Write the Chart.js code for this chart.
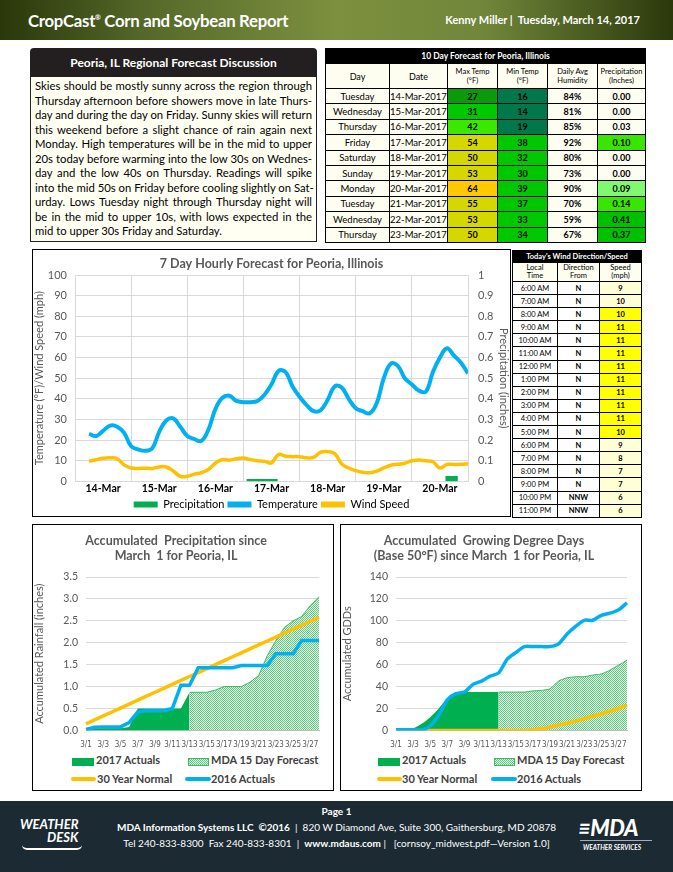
<!DOCTYPE html>
<html>
<head>
<meta charset="utf-8">
<script src="https://cdn.jsdelivr.net/npm/chart.js@4.4.1/dist/chart.umd.min.js"></script>
<style>
  body { margin: 0; width: 673px; height: 872px; position: relative; overflow: hidden; background: #fff; font-family: Lato, "Open Sans", sans-serif; }
  .abs { position: absolute; }
  #top { left: 0; top: 0; width: 673px; height: 40px; background: linear-gradient(90deg, #2a370a 0%, #56692a 22%, #7d903f 50%, #71863a 72%, #2b380b 100%); }
  #top .ttl { left: 28px; top: 10px; color: #fff; font-weight: bold; font-size: 16.8px; letter-spacing: -0.3px; }
  #top .ttl sup { font-size: 7px; }
  #top .who { right: 33px; top: 13px; color: #fff; font-weight: bold; font-size: 11px; }
  #disc { left: 30px; top: 48px; width: 287px; }
  #disc .hd { height: 29px; background: #231f20; border-radius: 4px 4px 0 0; color: #fff; font-weight: bold; font-size: 12px; text-align: center; line-height: 30px; }
  #disc .bd { height: 165px; background: #fffff2; border: 1px solid #222; border-top: none; padding: 2px 4px 0 4px; box-sizing: border-box; font-size: 11.3px; line-height: 14.55px; color: #000; }
  #disc .bd div { text-align: justify; text-align-last: justify; white-space: nowrap; }
  #disc .bd div.last { text-align-last: left; }
  table { border-collapse: collapse; }
  #fc { left: 325px; top: 48px; width: 321px; font-size: 9.5px; }
  #fc td, #fc th { border: 1px solid #000; text-align: center; padding: 0; background: #fdfdf0; }
  #fc th { font-weight: normal; font-size: 7.5px; height: 24px; line-height: 9px; }
  #fc th.day { font-size: 9px; }
  #fc .cap td { background: #000; color: #fff; font-weight: bold; height: 14px; font-size: 8.5px; }
  #fc td { height: 14.4px; }
  #fc td.b { font-weight: bold; font-size: 9px; }
  #wt { left: 512px; top: 250px; width: 130px; font-size: 7.5px; }
  #wt td, #wt th { border: 1px solid #000; text-align: center; padding: 0; background: #fff; }
  #wt .cap td { background: #000; color: #fff; font-weight: bold; height: 11px; font-size: 7.5px; }
  #wt th { font-weight: normal; height: 18px; line-height: 8.5px; background: #fdfdf0; }
  #wt td { height: 12.1px; }
  #wt td.b { font-weight: bold; }
  .box { border: 1px solid #000; box-sizing: border-box; }
  .leg { font-size: 11px; font-weight: bold; color: #404040; }
  .leg span.k { position: absolute; white-space: nowrap; }
  #foot { left: 0; top: 801px; width: 673px; height: 71px; background: #1c2a33; color: #fff; }
  #foot .c { left: 0; width: 673px; text-align: center; font-size: 10px; }
</style>
</head>
<body>
<div id="top" class="abs">
  <div class="abs ttl">CropCast<sup>®</sup> Corn and Soybean Report</div>
  <div class="abs who">Kenny Miller |&nbsp; Tuesday, March 14, 2017</div>
</div>

<div id="disc" class="abs">
  <div class="hd">Peoria, IL Regional Forecast Discussion</div>
  <div class="bd" id="discBody"></div>
</div>

<table id="fc" class="abs"></table>
<table id="wt" class="abs"></table>

<div class="abs box" style="left:32px;top:249px;width:479px;height:268px;">
  <canvas id="hourly" width="477" height="270"></canvas>
</div>

<div class="abs box" style="left:32px;top:524px;width:302px;height:267px;overflow:hidden;">
  <canvas id="rain" width="300" height="227"></canvas>
</div>
<div class="abs leg" style="left:0;top:0;">
  <span class="k" style="left:72px;top:758px;width:22px;height:8px;background:#00B050"></span>
  <span class="k" style="left:96px;top:753px;">2017 Actuals</span>
  <span class="k" id="pat1" style="left:188px;top:758px;width:21px;height:8px;"></span>
  <span class="k" style="left:211px;top:753px;">MDA 15 Day Forecast</span>
  <span class="k" style="left:71px;top:777px;width:25px;height:4px;background:#FFC000;border-radius:2px"></span>
  <span class="k" style="left:97px;top:772px;">30 Year Normal</span>
  <span class="k" style="left:185px;top:777px;width:26px;height:4px;background:#00B0F0;border-radius:2px"></span>
  <span class="k" style="left:211px;top:772px;">2016 Actuals</span>
</div>

<div class="abs box" style="left:340px;top:524px;width:302px;height:267px;overflow:hidden;">
  <canvas id="gdd" width="300" height="227"></canvas>
</div>
<div class="abs leg" style="left:0;top:0;">
  <span class="k" style="left:378px;top:758px;width:22px;height:8px;background:#00B050"></span>
  <span class="k" style="left:402px;top:753px;">2017 Actuals</span>
  <span class="k" id="pat2" style="left:494px;top:758px;width:21px;height:8px;"></span>
  <span class="k" style="left:517px;top:753px;">MDA 15 Day Forecast</span>
  <span class="k" style="left:377px;top:777px;width:25px;height:4px;background:#FFC000;border-radius:2px"></span>
  <span class="k" style="left:402px;top:772px;">30 Year Normal</span>
  <span class="k" style="left:491px;top:777px;width:26px;height:4px;background:#00B0F0;border-radius:2px"></span>
  <span class="k" style="left:517px;top:772px;">2016 Actuals</span>
</div>

<div id="foot" class="abs">
  <div class="abs c" style="top:4px;font-weight:bold;">Page 1</div>
  <div class="abs c" style="top:20px;"><b>MDA Information Systems LLC &nbsp;©2016</b> &nbsp;|&nbsp; 820 W Diamond Ave, Suite 300, Gaithersburg, MD 20878</div>
  <div class="abs c" style="top:36px;">Tel 240-833-8300 &nbsp;Fax 240-833-8301 &nbsp;| &nbsp;<b>www.mdaus.com</b> | &nbsp; [cornsoy_midwest.pdf—Version 1.0]</div>
  <div class="abs" style="left:20px;top:17px;font-style:italic;font-weight:bold;font-size:13px;line-height:13px;">WEATHER<br><span style="padding-left:27px">DESK</span></div>
  <div class="abs" style="left:22px;top:44px;width:60px;height:3px;border-bottom:2px solid #fff;border-radius:0 0 40px 40px;"></div>
  <div class="abs" style="left:578px;top:13px;font-style:italic;font-weight:900;font-size:22px;letter-spacing:-0.5px;">&#8801;MDA</div>
  <div class="abs" style="left:580px;top:39px;width:72px;border-top:1px solid #aab;"></div>
  <div class="abs" style="left:583px;top:43px;font-style:italic;font-weight:bold;font-size:6.5px;">WEATHER SERVICES</div>
</div>

<script>
// ---- text + tables ----
const discLines = [
  "Skies should be mostly sunny across the region through",
  "Thursday afternoon before showers move in late Thurs-",
  "day and during the day on Friday. Sunny skies will return",
  "this weekend before a slight chance of rain again next",
  "Monday. High temperatures will be in the mid to upper",
  "20s today before warming into the low 30s on Wednes-",
  "day and the low 40s on Thursday. Readings will spike",
  "into the mid 50s on Friday before cooling slightly on Sat-",
  "urday. Lows Tuesday night through Thursday night will",
  "be in the mid to upper 10s, with lows expected in the",
  "mid to upper 30s Friday and Saturday."
];

const fcDays = ["Tuesday", "Wednesday", "Thursday", "Friday", "Saturday", "Sunday", "Monday", "Tuesday", "Wednesday", "Thursday"];
const fcDates = ["14-Mar-2017", "15-Mar-2017", "16-Mar-2017", "17-Mar-2017", "18-Mar-2017", "19-Mar-2017", "20-Mar-2017", "21-Mar-2017", "22-Mar-2017", "23-Mar-2017"];
const fcMax = [27, 31, 42, 54, 50, 53, 64, 55, 53, 50];
const fcMin = [16, 14, 19, 38, 32, 30, 39, 37, 33, 34];
const fcHumid = [84, 81, 85, 92, 80, 73, 90, 70, 59, 67];
const fcPrecip = [0.00, 0.00, 0.03, 0.10, 0.00, 0.00, 0.09, 0.14, 0.41, 0.37];

const windTimes = ["6:00 AM", "7:00 AM", "8:00 AM", "9:00 AM", "10:00 AM", "11:00 AM", "12:00 PM", "1:00 PM", "2:00 PM", "3:00 PM", "4:00 PM", "5:00 PM", "6:00 PM", "7:00 PM", "8:00 PM", "9:00 PM", "10:00 PM", "11:00 PM"];
const windDirs = ["N", "N", "N", "N", "N", "N", "N", "N", "N", "N", "N", "N", "N", "N", "N", "N", "NNW", "NNW"];
const windSpeeds = [9, 10, 10, 11, 11, 11, 11, 11, 11, 11, 11, 10, 9, 8, 7, 7, 6, 6];

// ---- chart data ----
const dayLabels = ["14-Mar", "15-Mar", "16-Mar", "17-Mar", "18-Mar", "19-Mar", "20-Mar"];
const hours = [6, 9, 12, 15, 18, 21, 24, 27, 30, 33, 36, 39, 42, 45, 48, 51, 54, 57, 60, 63, 66, 69, 72, 75, 78, 81, 84, 87, 90, 93, 96, 99, 102, 105, 108, 111, 114, 117, 120, 123, 126, 129, 132, 135, 138, 141, 144, 147, 150, 153, 156, 159, 162, 165, 168];
const tempF = [23, 22, 24.5, 27, 26.5, 23.5, 17, 15.5, 14.8, 16, 24, 29.5, 30.5, 26.5, 22, 20.5, 19.6, 25, 35, 40.5, 41.5, 39, 38.4, 38.4, 39, 42, 47, 53.5, 53, 46, 41, 37, 34, 34.5, 39.5, 46, 45.5, 40, 35.5, 34, 33, 38, 50, 57, 56, 50, 47, 44, 43.5, 53, 60, 64.5, 61, 57.5, 52.3];
const windMph = [9.8, 10.5, 11.2, 11.4, 11, 8, 6.5, 6.3, 6.4, 6.3, 7, 7, 5, 2.5, 2.5, 3.5, 4.2, 5.8, 8.8, 10.6, 10.3, 11, 11.3, 10.6, 10, 9.7, 9, 13, 12.2, 12, 12, 11.4, 11.6, 14.2, 14.4, 13.5, 8.5, 6.5, 5.2, 4.4, 4.2, 5, 6.5, 7.8, 8.3, 8.8, 10, 10.4, 10, 9.5, 6.5, 8.2, 8.2, 8.3, 8.5];
const precipHours = [74, 75, 76, 77, 78, 79, 80, 81, 82, 83, 84, 85, 86, 159, 160, 161, 162, 163];
const precipIn = [0.01, 0.01, 0.01, 0.01, 0.01, 0.01, 0.01, 0.01, 0.01, 0.01, 0.01, 0.01, 0.01, 0.025, 0.025, 0.025, 0.025, 0.025];

const marchDays = ["3/1", "3/2", "3/3", "3/4", "3/5", "3/6", "3/7", "3/8", "3/9", "3/10", "3/11", "3/12", "3/13", "3/14", "3/15", "3/16", "3/17", "3/18", "3/19", "3/20", "3/21", "3/22", "3/23", "3/24", "3/25", "3/26", "3/27", "3/28"];
const rain2017 = [0.02, 0.04, 0.05, 0.05, 0.05, 0.08, 0.5, 0.5, 0.5, 0.5, 0.5, 0.5, 0.87, null, null, null, null, null, null, null, null, null, null, null, null, null, null, null];
const rainMDA = [null, null, null, null, null, null, null, null, null, null, null, null, 0.87, 0.87, 0.87, 0.92, 1.0, 1.0, 1.0, 1.1, 1.25, 1.7, 2.05, 2.35, 2.5, 2.6, 2.85, 3.05];
const rainNormal = [0.15, 0.24, 0.33, 0.42, 0.51, 0.60, 0.69, 0.78, 0.87, 0.96, 1.05, 1.14, 1.23, 1.32, 1.41, 1.50, 1.59, 1.68, 1.77, 1.86, 1.95, 2.04, 2.13, 2.22, 2.31, 2.40, 2.49, 2.58];
const rain2016 = [0.02, 0.07, 0.08, 0.08, 0.08, 0.18, 0.42, 0.45, 0.45, 0.45, 0.5, 1.03, 1.03, 1.43, 1.43, 1.43, 1.43, 1.43, 1.48, 1.48, 1.48, 1.48, 1.75, 1.75, 1.75, 2.05, 2.05, 2.05];

const gdd2017 = [2, 2, 2, 6, 12, 20, 29, 34, 35, 35, 35, 35, 35, null, null, null, null, null, null, null, null, null, null, null, null, null, null, null];
const gddMDA = [null, null, null, null, null, null, null, null, null, null, null, null, 35, 35, 35, 35, 36, 36.5, 38, 45, 48, 49, 49, 50.5, 51.5, 55, 59.5, 64];
const gddNormal = [0, 0, 0, 0, 0, 0, 0, 0, 0, 0, 0, 0, 0, 0, 0, 0, 0.5, 1.5, 3, 5, 6.5, 8.5, 10.5, 13, 15, 17.5, 20, 23];
const gdd2016 = [0.5, 0.5, 0.5, 0.5, 4, 14, 28, 33.5, 35, 42, 45, 49.5, 52.5, 65, 71, 76.5, 76.5, 76.5, 76.5, 79, 88, 95, 100.5, 100.5, 105, 107, 110, 116.5];

// discussion text, one div per line so the wraps match
const body = document.getElementById("discBody");
discLines.forEach((t, i) => {
  const d = document.createElement("div");
  d.textContent = t;
  if (i === discLines.length - 1) d.className = "last";
  body.appendChild(d);
});

// conditional colors like the excel sheet
function maxColor(v) {
  if (v < 30) return "#0a9a0a";
  if (v < 40) return "#00c800";
  if (v < 50) return "#3de800";
  if (v < 60) return "#d6d600";
  return "#ffc800";
}
function minColor(v) { return v < 20 ? "#00784c" : "#00c800"; }
function precipColor(v) {
  if (v < 0.05) return "#fdfdf0";
  if (v < 0.1) return "#80f870";
  if (v < 0.2) return "#38e600";
  return "#00c000";
}

const fc = document.getElementById("fc");
let html = '<tr class="cap"><td colspan="6">10 Day Forecast for Peoria, Illinois</td></tr>';
html += '<tr><th class="day" style="width:63px">Day</th><th class="day" style="width:57px">Date</th><th style="width:49px">Max Temp<br>(°F)</th><th style="width:49px">Min Temp<br>(°F)</th><th style="width:49px">Daily Avg<br>Humidity</th><th>Precipitation<br>(Inches)</th></tr>';
fcDays.forEach((d, i) => {
  html += `<tr><td>${d}</td><td>${fcDates[i]}</td>` +
    `<td class="b" style="background:${maxColor(fcMax[i])}">${fcMax[i]}</td>` +
    `<td class="b" style="background:${minColor(fcMin[i])}">${fcMin[i]}</td>` +
    `<td class="b">${fcHumid[i]}%</td>` +
    `<td class="b" style="background:${precipColor(fcPrecip[i])}">${fcPrecip[i].toFixed(2)}</td></tr>`;
});
fc.innerHTML = html;

const wt = document.getElementById("wt");
html = '<tr class="cap"><td colspan="3">Today\'s Wind Direction/Speed</td></tr>';
html += '<tr><th style="width:44px">Local<br>Time</th><th style="width:41px">Direction<br>From</th><th>Speed<br>(mph)</th></tr>';
windTimes.forEach((t, i) => {
  const bg = (i >= 2 && i <= 11) ? "#ffff00" : "#ffffd6";
  html += `<tr><td>${t}</td><td class="b">${windDirs[i]}</td><td class="b" style="background:${bg}">${windSpeeds[i]}</td></tr>`;
});
wt.innerHTML = html;

// ---- charts ----
Chart.defaults.font.family = "Lato, 'Open Sans', sans-serif";
Chart.defaults.color = "#595959";
Chart.defaults.animation = false;

const grey = "#d9d9d9";

new Chart(document.getElementById("hourly"), {
  type: "line",
  data: {
    datasets: [
      {
        type: "bar",
        label: "Precipitation",
        data: precipHours.map((h, i) => ({ x: h, y: precipIn[i] })),
        backgroundColor: "#00B050",
        barPercentage: 1,
        categoryPercentage: 1,
        yAxisID: "y1",
      },
      {
        label: "Temperature",
        data: hours.map((h, i) => ({ x: h, y: tempF[i] })),
        borderColor: "#00B0F0",
        backgroundColor: "#00B0F0",
        borderWidth: 4,
        pointRadius: 0,
        tension: 0.4,
        yAxisID: "y",
      },
      {
        label: "Wind Speed",
        data: hours.map((h, i) => ({ x: h, y: windMph[i] })),
        borderColor: "#FFC000",
        backgroundColor: "#FFC000",
        borderWidth: 3.5,
        pointRadius: 0,
        tension: 0.4,
        yAxisID: "y",
      },
    ],
  },
  options: {
    responsive: false,
    layout: { padding: { top: 4, right: 0, bottom: 0, left: 0 } },
    plugins: {
      title: {
        display: true,
        text: "7 Day Hourly Forecast for Peoria, Illinois",
        font: { size: 12.5, weight: "bold" },
        color: "#595959",
        padding: { top: 2, bottom: 4 },
      },
      legend: {
        position: "bottom",
        labels: {
          boxWidth: 24,
          boxHeight: 6,
          padding: 3,
          font: { size: 11 },
          generateLabels: (chart) =>
            chart.data.datasets.map((ds, i) => ({
              text: ds.label,
              fillStyle: ds.backgroundColor,
              strokeStyle: ds.backgroundColor,
              lineWidth: 0,
              datasetIndex: i,
            })),
        },
      },
      tooltip: { enabled: false },
    },
    scales: {
      x: {
        type: "linear",
        min: 0,
        max: 168,
        offset: false,
        afterBuildTicks: (axis) => {
          const t = [];
          for (let v = 0; v <= 168; v += 12) t.push({ value: v });
          axis.ticks = t;
        },
        ticks: {
          autoSkip: false,
          maxRotation: 0,
          padding: 1,
          color: "#000",
          font: { size: 10.5, weight: "bold" },
          callback: (v) => (v % 24 === 12 ? dayLabels[(v - 12) / 24] : ""),
        },
        grid: {
          color: (c) => (c.tick && c.tick.value % 24 === 0 ? grey : "rgba(0,0,0,0)"),
          drawTicks: false,
          offset: false,
        },
        border: { color: grey },
      },
      y: {
        position: "left",
        min: 0,
        max: 100,
        ticks: { stepSize: 10, font: { size: 11 }, padding: 8 },
        grid: { color: grey, drawTicks: false },
        border: { display: false },
        title: { display: true, text: "Temperature (°F)/Wind Speed (mph)", font: { size: 11 }, padding: 0 },
        afterFit: (s) => { s.width = 42; },
      },
      y1: {
        position: "right",
        min: 0,
        max: 1,
        ticks: { stepSize: 0.1, font: { size: 11 }, padding: 10, callback: (v) => String(+v.toFixed(1)) },
        grid: { drawOnChartArea: false, drawTicks: false },
        border: { display: false },
        title: { display: true, text: "Precipitation (inches)", font: { size: 11 }, padding: 0 },
        afterFit: (s) => { s.width = 42; },
      },
    },
  },
});

// dotted fill for the forecast areas
function makePattern() {
  const c = document.createElement("canvas");
  c.width = 2;
  c.height = 2;
  const g = c.getContext("2d");
  g.fillStyle = "#e2f5e7";
  g.fillRect(0, 0, 2, 2);
  g.fillStyle = "#63c783";
  g.fillRect(0, 0, 1, 1);
  g.fillRect(1, 1, 1, 1);
  return c;
}
const patCanvas = makePattern();
const pattern = document.createElement("canvas").getContext("2d").createPattern(patCanvas, "repeat");
["pat1", "pat2"].forEach((id) => {
  const el = document.getElementById(id);
  el.style.backgroundImage = `url(${patCanvas.toDataURL()})`;
  el.style.border = "1px solid #3cb963";
  el.style.boxSizing = "border-box";
});

function accumChart(id, title, actual, forecast, normal, last, yMax, yStep, yTitle, yWidth, tension, fmt) {
  return new Chart(document.getElementById(id), {
    type: "line",
    data: {
      labels: marchDays,
      datasets: [
        { label: "2016 Actuals", data: last, borderColor: "#00B0F0", borderWidth: 3.5, pointRadius: 0, tension: tension, order: 0 },
        { label: "30 Year Normal", data: normal, borderColor: "#FFC000", borderWidth: 3.5, pointRadius: 0, tension: tension, order: 1 },
        { label: "MDA 15 Day Forecast", data: forecast, backgroundColor: pattern, borderColor: "#3cb963", borderWidth: 1, pointRadius: 0, fill: "origin", tension: tension, order: 2 },
        { label: "2017 Actuals", data: actual, backgroundColor: "#00B050", borderColor: "#00B050", borderWidth: 0, pointRadius: 0, fill: "origin", tension: tension, order: 3 },
      ],
    },
    options: {
      responsive: false,
      layout: { padding: { top: 6, right: 14, bottom: 0, left: 0 } },
      plugins: {
        legend: { display: false },
        tooltip: { enabled: false },
        title: {
          display: true,
          text: title,
          font: { size: 12.5, weight: "bold" },
          color: "#595959",
          lineHeight: 1.2,
          padding: { top: 2, bottom: 14 },
        },
      },
      scales: {
        x: {
          offset: false,
          ticks: {
            autoSkip: false,
            maxRotation: 0,
            padding: 2,
            font: { size: 8, family: "'Liberation Sans Narrow', 'DejaVu Sans Condensed', Lato, sans-serif" },
            callback: (v, i) => (i % 2 === 0 ? marchDays[i] : ""),
          },
          grid: { display: false },
          border: { color: "#bfbfbf" },
        },
        y: {
          min: 0,
          max: yMax,
          ticks: { stepSize: yStep, font: { size: 10.5 }, padding: 8, callback: fmt },
          grid: { color: grey, drawTicks: false },
          border: { display: false },
          title: { display: true, text: yTitle, font: { size: 11 }, padding: 0 },
          afterFit: (s) => { s.width = yWidth; },
        },
      },
    },
  });
}

accumChart("rain", ["Accumulated  Precipitation since", "March  1 for Peoria, IL"],
  rain2017, rainMDA, rainNormal, rain2016, 3.5, 0.5, "Accumulated Rainfall (inches)", 53, 0,
  (v) => v.toFixed(1));
accumChart("gdd", ["Accumulated  Growing Degree Days", "(Base 50°F) since March  1 for Peoria, IL"],
  gdd2017, gddMDA, gddNormal, gdd2016, 140, 20, "Accumulated GDDs", 55, 0.25,
  (v) => String(v));
</script>
</body>
</html>
